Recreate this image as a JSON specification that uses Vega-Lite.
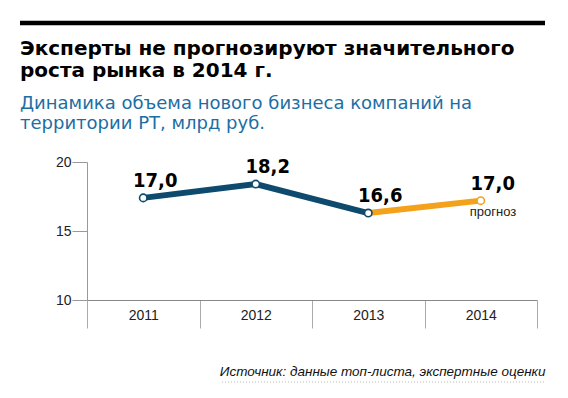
{
  "$schema": "https://vega.github.io/schema/vega-lite/v6.json",
  "width": 450,
  "height": 138,
  "autosize": {"type": "none"},
  "padding": {"left": 87, "top": 162, "right": 31, "bottom": 98},
  "background": "white",
  "config": {"view": {"stroke": null}, "font": "Liberation Sans"},
  "title": {
    "text": ["Эксперты не прогнозируют значительного", "роста рынка в 2014 г."],
    "subtitle": ["Динамика объема нового бизнеса компаний на", "территории РТ, млрд руб."],
    "anchor": "start",
    "frame": "group",
    "dx": -67,
    "dy": 112,
    "offset": 0,
    "font": "DejaVu Sans",
    "fontSize": 20,
    "fontWeight": "bold",
    "color": "#000000",
    "lineHeight": 22,
    "subtitleFont": "DejaVu Sans",
    "subtitleFontSize": 18,
    "subtitleColor": "#1c6ea4",
    "subtitleLineHeight": 20,
    "subtitlePadding": 14
  },
  "datasets": {
    "points": [
      {"year": "2011", "value": 17.4, "label": "17,0", "series": "факт", "note": ""},
      {"year": "2012", "value": 18.4, "label": "18,2", "series": "факт", "note": ""},
      {"year": "2013", "value": 16.3, "label": "16,6", "series": "факт", "note": ""},
      {"year": "2014", "value": 17.2, "label": "17,0", "series": "прогноз", "note": "прогноз"}
    ],
    "lines": [
      {"year": "2011", "value": 17.4, "series": "факт"},
      {"year": "2012", "value": 18.4, "series": "факт"},
      {"year": "2013", "value": 16.3, "series": "факт"},
      {"year": "2013", "value": 16.3, "series": "прогноз"},
      {"year": "2014", "value": 17.2, "series": "прогноз"}
    ]
  },
  "encoding": {
    "x": {
      "field": "year",
      "type": "ordinal",
      "scale": {"type": "band", "paddingInner": 0, "paddingOuter": 0, "domain": ["2011", "2012", "2013", "2014"]},
      "axis": {
        "labelAngle": 0,
        "tickBand": "extent",
        "tickSize": 28,
        "tickColor": "#aaaaaa",
        "domainColor": "#888888",
        "labelPadding": -20,
        "labelFontSize": 14,
        "labelColor": "#222222",
        "labelFont": "Liberation Sans",
        "title": "Источник: данные топ-листа, экспертные оценки",
        "titleFont": "Liberation Sans",
        "titleFontStyle": "italic",
        "titleFontWeight": "normal",
        "titleFontSize": 13.5,
        "titleColor": "#111111",
        "titleAnchor": "end",
        "titleAlign": "right",
        "titleBaseline": "alphabetic",
        "titleX": 458,
        "titleY": 75
      }
    },
    "y": {
      "field": "value",
      "type": "quantitative",
      "scale": {"domain": [10, 20], "nice": false, "zero": false},
      "axis": {
        "values": [10, 15, 20],
        "grid": false,
        "title": null,
        "tickSize": 15,
        "tickColor": "#999999",
        "domainColor": "#999999",
        "labelPadding": 1,
        "labelFontSize": 14,
        "labelColor": "#222222",
        "labelFont": "Liberation Sans"
      }
    }
  },
  "layer": [
    {
      "data": {"name": "lines"},
      "mark": {"type": "line", "strokeWidth": 6, "strokeCap": "butt"},
      "encoding": {
        "color": {
          "field": "series",
          "type": "nominal",
          "scale": {"domain": ["факт", "прогноз"], "range": ["#0d4a6e", "#f4a21b"]},
          "legend": null
        }
      }
    },
    {
      "data": {"name": "points"},
      "mark": {"type": "point", "filled": false, "fill": "white", "fillOpacity": 1, "size": 55, "strokeWidth": 1.6, "opacity": 1},
      "encoding": {
        "stroke": {
          "field": "series",
          "type": "nominal",
          "scale": {"domain": ["факт", "прогноз"], "range": ["#0d4a6e", "#f4a21b"]},
          "legend": null
        }
      }
    },
    {
      "data": {"name": "points"},
      "mark": {"type": "text", "font": "DejaVu Sans Condensed", "fontWeight": "bold", "fontSize": 20, "dx": 12, "dy": -11, "baseline": "alphabetic", "color": "#000000"},
      "encoding": {"text": {"field": "label"}}
    },
    {
      "data": {"name": "points"},
      "mark": {"type": "text", "fontSize": 13, "align": "left", "dx": -11, "dy": 15, "baseline": "alphabetic", "color": "#222222"},
      "encoding": {"text": {"field": "note"}}
    },
    {
      "data": {"values": [{}]},
      "mark": {"type": "rule", "strokeWidth": 4.5, "color": "#000000"},
      "encoding": {
        "x": {"value": -67},
        "x2": {"value": 458},
        "y": {"value": -139}
      }
    },
    {
      "data": {"values": [{}]},
      "mark": {"type": "rule", "strokeWidth": 1, "color": "#bbbbbb", "strokeDash": [1, 2]},
      "encoding": {
        "x": {"value": 135},
        "x2": {"value": 459},
        "y": {"value": 220}
      }
    }
  ]
}
